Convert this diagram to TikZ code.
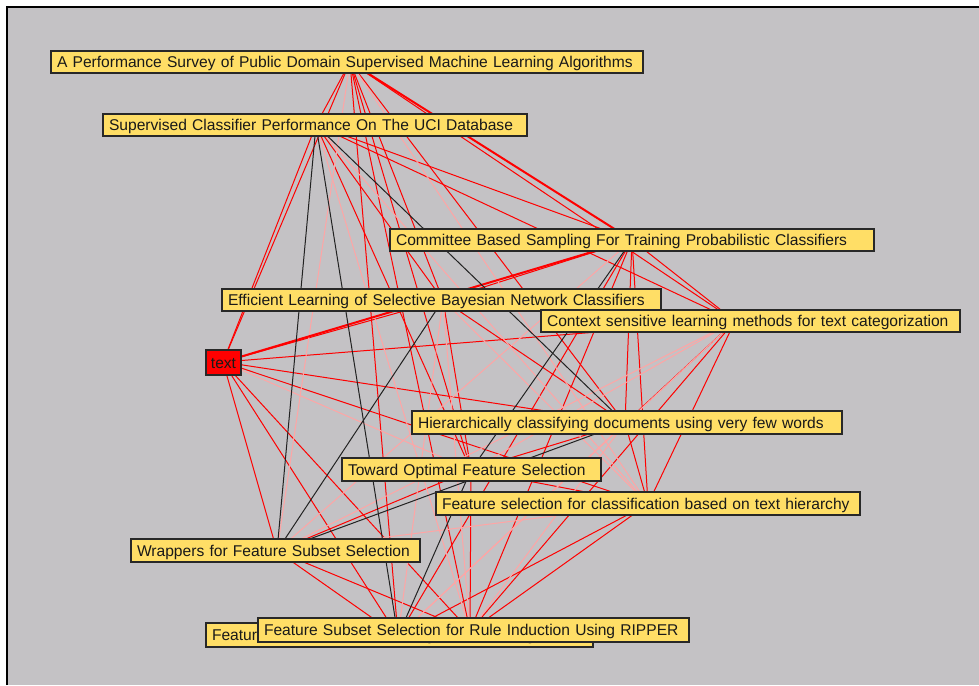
\documentclass[tikz,border=0pt]{standalone}
\usepackage{fontspec}
\setmainfont{Liberation Sans}
\definecolor{bg}{RGB}{196,194,197}
\definecolor{boxfill}{RGB}{255,222,102}
\definecolor{edgered}{RGB}{255,0,0}
\definecolor{edgepink}{RGB}{255,165,165}
\definecolor{edgedark}{RGB}{34,34,34}
\definecolor{boxline}{RGB}{40,40,40}
\definecolor{txt}{RGB}{25,25,25}
\tikzset{
  lbl/.style={draw=boxline, line width=1.2pt, fill=boxfill, minimum height=22pt,
    inner xsep=6pt, inner ysep=0pt, align=left, text height=11.2pt, text depth=0pt,
    font=\fontsize{15.6}{18}\selectfont, text=txt},
  redlbl/.style={lbl, fill=edgered, align=center, inner xsep=0pt},
  er/.style={draw=edgered, line width=1pt},
  ep/.style={draw=edgepink, line width=1pt},
  ek/.style={draw=edgedark, line width=1pt},
  ethick/.style={draw=edgered, line width=2pt},
}
\begin{document}
\begin{tikzpicture}[x=1pt,y=-1pt]
\useasboundingbox (0,0) rectangle (979,685);
\fill[white] (0,0) rectangle (979,685);
\fill[bg] (7,7) rectangle (979,685);
\draw[line width=2pt] (7,685) -- (7,7) -- (979,7);

% hub points where the connectors meet
\coordinate (a) at (350,62);
\coordinate (b) at (316,125);
\coordinate (c) at (632,240);
\coordinate (d) at (443,300);
\coordinate (e) at (735,321);
\coordinate (t) at (223,362);
\coordinate (h) at (625,423);
\coordinate (o) at (471,470);
\coordinate (f) at (648,504);
\coordinate (w) at (277,551);
\coordinate (r) at (470,631);
\coordinate (g) at (398,636);

% connectors
\foreach \u/\v in {a/b,a/d,a/e,a/t,a/h,a/o,a/r,a/g,
  b/c,b/d,b/e,b/t,b/o,
  c/d,c/e,c/h,c/f,c/r,c/g,
  d/e,d/t,d/h,d/o,
  e/t,e/h,e/f,e/r,
  t/h,t/f,t/w,t/r,t/g,
  h/o,h/f,
  o/f,o/w,o/r,
  f/r,f/g,
  w/r,w/g,r/g}
  \draw[er] (\u) -- (\v);
\foreach \u/\v in {t/o,a/w,a/f,b/f,b/r,c/w,e/w,f/w,g/h,e/g,d/g,d/r,e/o,h/r,d/f}
  \draw[ep] (\u) -- (\v);
\foreach \u/\v in {t/c,a/c}
  \draw[ethick] (\u) -- (\v);
\foreach \u/\v in {b/w,b/g,b/h,d/w,c/o,o/g,h/w}
  \draw[ek] (\u) -- (\v);

% labels
\node[lbl, text width=580pt] (A) at (347,62) {\mbox{A Performance Survey of Public Domain Supervised Machine Learning Algorithms}};
\node[lbl, text width=412pt] (B) at (315,125) {\mbox{Supervised Classifier Performance On The UCI Database}};
\node[lbl, text width=472pt] (C) at (632,240) {\mbox{Committee Based Sampling For Training Probabilistic Classifiers}};
\node[lbl, text width=427pt] (D) at (441.5,300) {\mbox{Efficient Learning of Selective Bayesian Network Classifiers}};
\node[lbl, text width=407pt] (E) at (750.5,321) {\mbox{Context sensitive learning methods for text categorization}};
\node[redlbl, minimum width=35pt, minimum height=25pt] (T) at (223.5,362.5) {text};
\node[lbl, text width=418pt, minimum height=23pt] (H) at (627,422.5) {\mbox{Hierarchically classifying documents using very few words}};
\node[lbl, text width=247pt, minimum height=23pt] (O) at (471.5,469.5) {\mbox{Toward Optimal Feature Selection}};
\node[lbl, text width=412pt, minimum height=23pt] (F) at (648,503.5) {\mbox{Feature selection for classification based on text hierarchy}};
\node[lbl, text width=277pt, minimum height=23pt] (W) at (275.5,550.5) {\mbox{Wrappers for Feature Subset Selection}};
\node[lbl, text width=375pt, minimum height=24pt] (G) at (399.5,635) {\mbox{Feature Subset Selection Using a Genetic Algorithm}};
\node[lbl, text width=419pt, minimum height=24pt] (R) at (473.5,630) {\mbox{Feature Subset Selection for Rule Induction Using RIPPER}};
\end{tikzpicture}
\end{document}
